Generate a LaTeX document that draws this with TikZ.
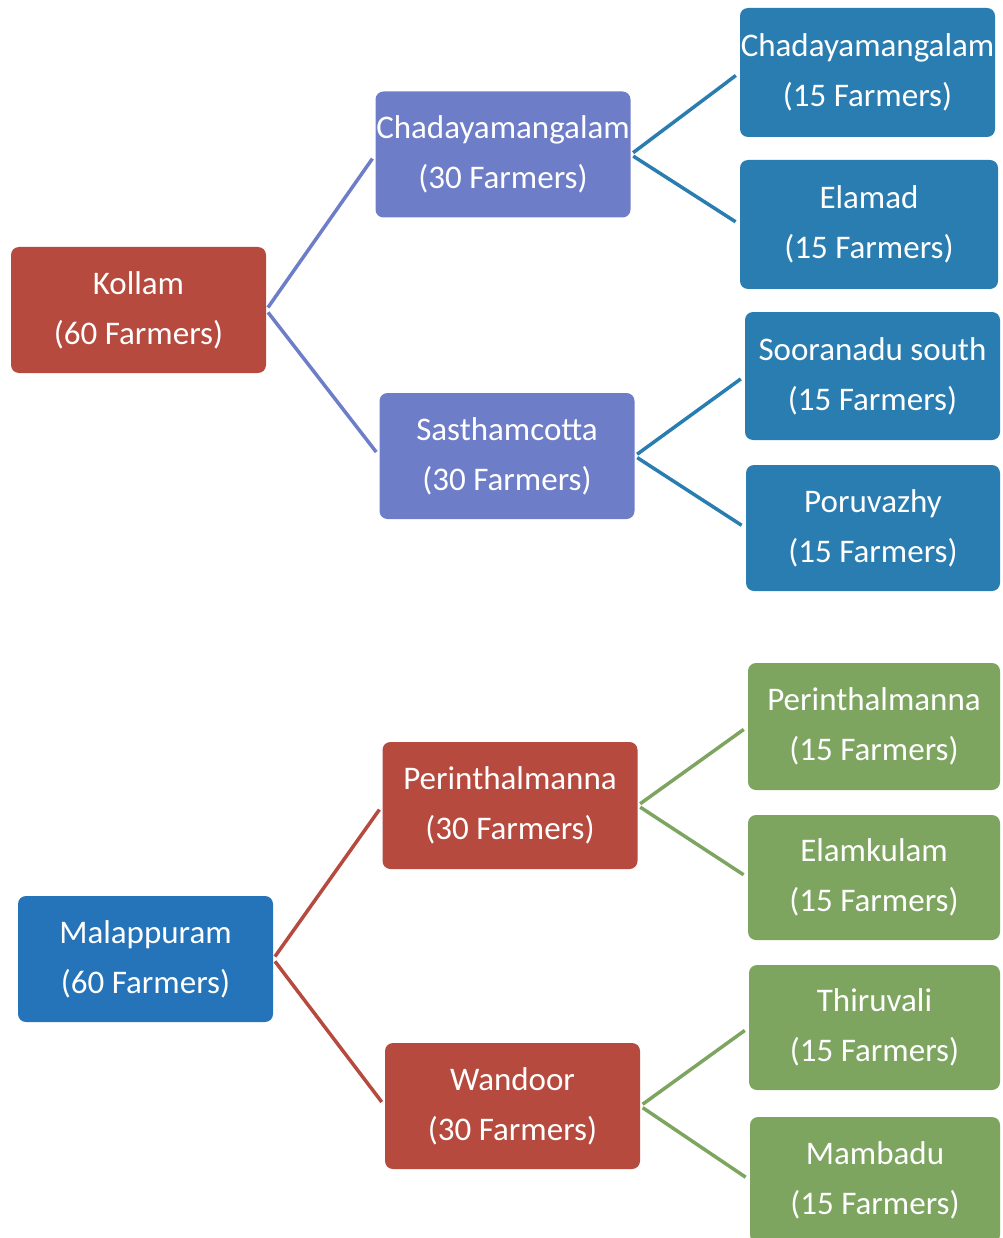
\documentclass[tikz,border=0pt]{standalone}
\usepackage{fontspec}
\setmainfont{Carlito}
\usepackage{tikz}
\definecolor{boxred}{RGB}{182,74,62}
\definecolor{boxlav}{RGB}{110,125,200}
\definecolor{boxteal}{RGB}{42,125,176}
\definecolor{boxblue}{RGB}{37,116,186}
\definecolor{boxgreen}{RGB}{125,165,96}
\begin{document}
\begin{tikzpicture}[x=1pt,y=-1pt]
\useasboundingbox (0,0) rectangle (1002,1238);
\tikzstyle{place}=[rectangle,rounded corners=8pt,text=white,align=center,inner sep=0pt,minimum width=255pt,minimum height=126pt,font=\fontsize{33}{50}\selectfont]
\tikzstyle{link}=[line width=3.5pt,shorten <=3pt,shorten >=5pt]
\node[place,fill=boxred] (1) at (138.5,310) {Kollam\\(60 Farmers)};
\node[place,fill=boxlav] (2) at (503,154.5) {Chadayamangalam\\(30 Farmers)};
\node[place,fill=boxlav] (3) at (507,456) {Sasthamcotta\\(30 Farmers)};
\node[place,fill=boxteal,minimum height=129pt] (4) at (867.5,72.5) {Chadayamangalam\\(15 Farmers)};
\node[place,fill=boxteal,minimum width=258pt,minimum height=129pt] (5) at (869,224.5) {Elamad\\(15 Farmers)};
\node[place,fill=boxteal,minimum height=128pt] (6) at (872.5,376) {Sooranadu south\\(15 Farmers)};
\node[place,fill=boxteal,minimum width=254pt] (7) at (873,528) {Poruvazhy\\(15 Farmers)};
\node[place,fill=boxblue] (8) at (145.5,959) {Malappuram\\(60 Farmers)};
\node[place,fill=boxred,minimum height=127pt] (9) at (510,805.5) {Perinthalmanna\\(30 Farmers)};
\node[place,fill=boxred] (10) at (512.5,1106) {Wandoor\\(30 Farmers)};
\node[place,fill=boxgreen,minimum width=252pt,minimum height=127pt] (11) at (874,726.5) {Perinthalmanna\\(15 Farmers)};
\node[place,fill=boxgreen,minimum width=252pt,minimum height=125pt] (12) at (874,877.5) {Elamkulam\\(15 Farmers)};
\node[place,fill=boxgreen,minimum width=251pt,minimum height=125pt] (13) at (874.5,1027.5) {Thiruvali\\(15 Farmers)};
\node[place,fill=boxgreen,minimum width=250pt] (14) at (875,1180) {Mambadu\\(15 Farmers)};
\draw[link,boxlav] (1.east) -- (2.west);
\draw[link,boxlav] (1.east) -- (3.west);
\draw[link,boxteal] (2.east) -- (4.west);
\draw[link,boxteal] (2.east) -- (5.west);
\draw[link,boxteal] (3.east) -- (6.west);
\draw[link,boxteal] (3.east) -- (7.west);
\draw[link,boxred] (8.east) -- (9.west);
\draw[link,boxred] (8.east) -- (10.west);
\draw[link,boxgreen] (9.east) -- (11.west);
\draw[link,boxgreen] (9.east) -- (12.west);
\draw[link,boxgreen] (10.east) -- (13.west);
\draw[link,boxgreen] (10.east) -- (14.west);
\end{tikzpicture}
\end{document}
